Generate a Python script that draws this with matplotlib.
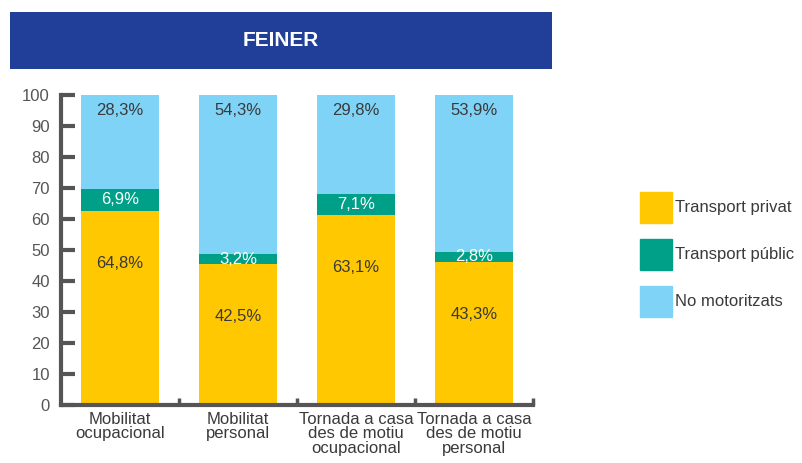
import numpy as np
import matplotlib.pyplot as plt
from matplotlib.patches import Patch, Rectangle

plt.rcParams['font.family'] = ['Liberation Sans Narrow', 'Liberation Sans', 'DejaVu Sans']

# Dades (alçades tal com es dibuixen + etiquetes publicades)
categories = ['Mobilitat\nocupacional', 'Mobilitat\npersonal',
              'Tornada a casa\ndes de motiu\nocupacional', 'Tornada a casa\ndes de motiu\npersonal']
privat = [62.6, 45.6, 61.3, 46.2]
public = [7.1, 3.0, 6.8, 3.2]
no_motor = [100 - a - b for a, b in zip(privat, public)]
lab_privat = ['64,8%', '42,5%', '63,1%', '43,3%']
lab_public = ['6,9%', '3,2%', '7,1%', '2,8%']
lab_no_motor = ['28,3%', '54,3%', '29,8%', '53,9%']
series = ['Transport privat', 'Transport públic', 'No motoritzats']

c_yellow = '#FFC800'
c_green = '#00A088'
c_blue = '#7FD3F7'
c_text = '#3a3a3a'
c_axis = '#555555'

fig = plt.figure(figsize=(8.03, 4.63), dpi=100)

# banda del títol
fig.patches.append(Rectangle((0.0125, 0.851), 0.6745, 0.123, transform=fig.transFigure,
                             facecolor='#213F99', edgecolor='none'))
fig.text(0.35, 0.912, 'FEINER', color='white', fontsize=15, fontweight='bold',
         ha='center', va='center')

ax = fig.add_axes([0.076, 0.125, 0.588, 0.67])
x = np.arange(len(categories))
w = 0.66
ax.bar(x, privat, w, color=c_yellow)
ax.bar(x, public, w, bottom=privat, color=c_green)
ax.bar(x, no_motor, w, bottom=np.array(privat) + np.array(public), color=c_blue)

for i in range(len(x)):
    ax.text(x[i], privat[i] - 17, lab_privat[i], ha='center', va='center', fontsize=12, color=c_text)
    ax.text(x[i], privat[i] + public[i] / 2, lab_public[i], ha='center', va='center', fontsize=12, color='white')
    ax.text(x[i], 95, lab_no_motor[i], ha='center', va='center', fontsize=12, color=c_text)

ax.set_xlim(-0.5, 3.5)
ax.set_ylim(0, 100)
ax.set_yticks(np.arange(0, 101, 10))
ax.set_xticks(x)
ax.set_xticklabels(categories, fontsize=12, color=c_text, linespacing=0.95)
ax.set_xticks(x + 0.5, minor=True)
ax.tick_params(axis='x', which='major', length=0, pad=5)
ax.tick_params(axis='x', which='minor', direction='in', length=5, width=2.5, color=c_axis)
ax.tick_params(axis='y', direction='in', length=10, width=3, color=c_axis,
               labelsize=12, labelcolor='#555555', pad=8)
for s in ['top', 'right']:
    ax.spines[s].set_visible(False)
for s in ['left', 'bottom']:
    ax.spines[s].set_color(c_axis)
    ax.spines[s].set_linewidth(3)

handles = [Patch(color=c) for c in (c_yellow, c_green, c_blue)]
fig.legend(handles, series, loc='center left', bbox_to_anchor=(0.797, 0.451),
           frameon=False, fontsize=12, handlelength=1.9, handleheight=2.5,
           labelspacing=0.95, handletextpad=0.2, borderpad=0, borderaxespad=0,
           labelcolor=c_text)

fig.savefig('out.png', dpi=100)
